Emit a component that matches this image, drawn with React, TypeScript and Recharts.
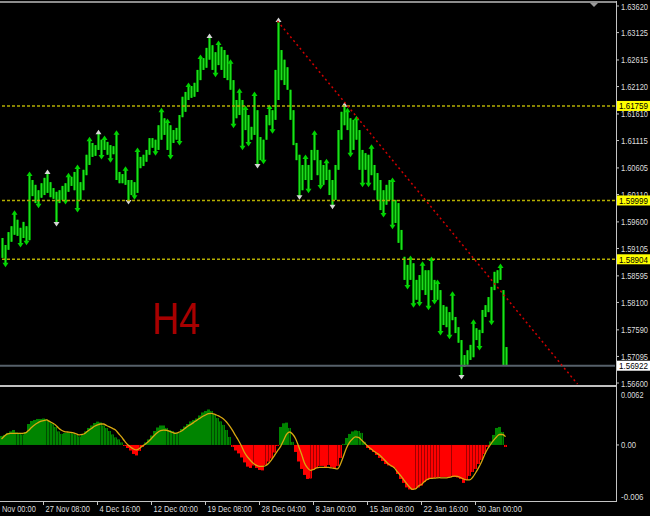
import React from 'react';
import { ComposedChart, Bar, Line, XAxis, YAxis, ReferenceLine } from 'recharts';

// ---- price bars (H4), high / low per bar ----
const hi = [
  1.5930, 1.5917, 1.5941, 1.5952, 1.5977, 1.5964, 1.5949, 1.5960, 1.5952, 1.6049,
  1.6038, 1.6029, 1.6019, 1.6032, 1.6042, 1.6053, 1.6034, 1.6023, 1.6016, 1.6019,
  1.6027, 1.6032, 1.6047, 1.6044, 1.6053, 1.6062, 1.6034, 1.6057, 1.6085, 1.6114,
  1.6107, 1.6103, 1.6127, 1.6113, 1.6116, 1.6109, 1.6103, 1.6101, 1.6126, 1.6053,
  1.6049, 1.6059, 1.6038, 1.6038, 1.6034, 1.6094, 1.6081, 1.6085, 1.6094, 1.6116,
  1.6116, 1.6113, 1.6140, 1.6168, 1.6153, 1.6148, 1.6140, 1.6131, 1.6135, 1.6159,
  1.6193, 1.6202, 1.6215, 1.6213, 1.6219, 1.6243, 1.6267, 1.6265, 1.6284, 1.6306,
  1.6289, 1.6276, 1.6293, 1.6286, 1.6280, 1.6271, 1.6258, 1.6224, 1.6187, 1.6204,
  1.6187, 1.6172, 1.6159, 1.6137, 1.6198, 1.6168, 1.6118, 1.6113, 1.6159, 1.6174,
  1.6168, 1.6243, 1.6336, 1.6280, 1.6262, 1.6248, 1.6206, 1.6168, 1.6107, 1.6085,
  1.6066, 1.6081, 1.6066, 1.6094, 1.6126, 1.6094, 1.6075, 1.6066, 1.6073, 1.6057,
  1.6038, 1.6066, 1.6131, 1.6165, 1.6178, 1.6168, 1.6153, 1.6150, 1.6153, 1.6131,
  1.6094, 1.6088, 1.6085, 1.6100, 1.6066, 1.6051, 1.6038, 1.6019, 1.6029, 1.6038,
  1.6038, 1.6001, 1.5995, 1.5945, 1.5895, 1.5880, 1.5893, 1.5883, 1.5852, 1.5861,
  1.5882, 1.5870, 1.5870, 1.5891, 1.5852, 1.5848, 1.5833, 1.5805, 1.5802, 1.5792,
  1.5826, 1.5783, 1.5764, 1.5740, 1.5712, 1.5721, 1.5731, 1.5774, 1.5762, 1.5759,
  1.5796, 1.5805, 1.5820, 1.5839, 1.5867, 1.5870, 1.5878, 1.5833, 1.5727,
];
const lo = [
  1.5893, 1.5880, 1.5908, 1.5923, 1.5936, 1.5934, 1.5917, 1.5930, 1.5921, 1.5926,
  1.6008, 1.5995, 1.5990, 1.6005, 1.6010, 1.6014, 1.6006, 1.6003, 1.5956, 1.5995,
  1.6001, 1.5997, 1.6016, 1.6027, 1.6019, 1.5982, 1.6001, 1.6019, 1.6047, 1.6066,
  1.6081, 1.6083, 1.6094, 1.6081, 1.6094, 1.6085, 1.6075, 1.6086, 1.6038, 1.6032,
  1.6032, 1.6029, 1.5997, 1.6010, 1.6006, 1.6014, 1.6060, 1.6064, 1.6072, 1.6085,
  1.6098, 1.6088, 1.6094, 1.6113, 1.6122, 1.6094, 1.6081, 1.6107, 1.6113, 1.6107,
  1.6155, 1.6165, 1.6187, 1.6191, 1.6193, 1.6202, 1.6224, 1.6243, 1.6247, 1.6262,
  1.6243, 1.6234, 1.6252, 1.6243, 1.6228, 1.6224, 1.6206, 1.6139, 1.6153, 1.6159,
  1.6098, 1.6131, 1.6105, 1.6113, 1.6122, 1.6064, 1.6075, 1.6072, 1.6113, 1.6140,
  1.6129, 1.6150, 1.6187, 1.6224, 1.6215, 1.6206, 1.6150, 1.6103, 1.6075, 1.6006,
  1.6019, 1.6038, 1.6018, 1.6038, 1.6075, 1.6047, 1.6025, 1.6029, 1.6038, 1.6010,
  1.5988, 1.6001, 1.6057, 1.6113, 1.6140, 1.6131, 1.6085, 1.6094, 1.6113, 1.6057,
  1.6029, 1.6057, 1.6029, 1.6047, 1.6019, 1.6001, 1.5982, 1.5973, 1.5992, 1.6001,
  1.5951, 1.5958, 1.5921, 1.5908, 1.5852, 1.5839, 1.5852, 1.5805, 1.5815, 1.5807,
  1.5833, 1.5824, 1.5800, 1.5833, 1.5811, 1.5815, 1.5753, 1.5768, 1.5764, 1.5746,
  1.5777, 1.5753, 1.5735, 1.5671, 1.5690, 1.5694, 1.5703, 1.5708, 1.5740, 1.5725,
  1.5753, 1.5783, 1.5792, 1.5772, 1.5833, 1.5846, 1.5852, 1.5692, 1.5692,
];

// fractal arrows (bar indices)
const upFractals = [4, 9, 15, 22, 25, 29, 32, 34, 38, 41, 45, 53, 55, 62, 66, 69, 72, 76, 79, 81, 84, 89, 92, 101, 104, 108, 114, 115, 118, 123, 130, 136, 140, 143, 145, 150, 157, 166];
const downFractals = [1, 6, 8, 12, 18, 21, 25, 33, 36, 42, 44, 51, 56, 59, 71, 77, 80, 82, 85, 87, 90, 99, 102, 106, 110, 116, 120, 122, 127, 130, 135, 137, 139, 142, 144, 146, 149, 153, 159, 163];
const majorFractals = [15, 18, 32, 42, 69, 85, 92, 99, 110, 114, 153];

// ---- indicator (histogram + signal) ----
const osma = [
  0.00098, 0.00109, 0.00131, 0.00147, 0.00163, 0.00136, 0.00131, 0.00114, 0.00141, 0.00228,
  0.00261, 0.00272, 0.00283, 0.00283, 0.00288, 0.00277, 0.00256, 0.00234, 0.00196, 0.00147,
  0.00120, 0.00131, 0.00136, 0.00134, 0.00125, 0.00109, 0.00092, 0.00109, 0.00147, 0.00185,
  0.00212, 0.00239, 0.00254, 0.00245, 0.00212, 0.00185, 0.00152, 0.00114, 0.00082, 0.00060,
  0.00027, -0.00011, -0.00033, -0.00060, -0.00098, -0.00114, -0.00065, -0.00022, 0.00027, 0.00060,
  0.00103, 0.00152, 0.00190, 0.00212, 0.00212, 0.00185, 0.00163, 0.00152, 0.00134, 0.00131,
  0.00174, 0.00201, 0.00228, 0.00256, 0.00272, 0.00288, 0.00321, 0.00354, 0.00370, 0.00386,
  0.00370, 0.00332, 0.00294, 0.00256, 0.00218, 0.00163, 0.00087, -0.00022, -0.00060, -0.00092,
  -0.00136, -0.00190, -0.00236, -0.00250, -0.00223, -0.00250, -0.00272, -0.00277, -0.00218, -0.00180,
  -0.00147, -0.00082, -0.00011, 0.00196, 0.00236, 0.00243, 0.00185, 0.00033, -0.00076, -0.00180,
  -0.00261, -0.00326, -0.00370, -0.00364, -0.00272, -0.00250, -0.00228, -0.00228, -0.00239, -0.00218,
  -0.00239, -0.00250, -0.00228, -0.00141, 0.00011, 0.00076, 0.00120, 0.00147, 0.00158, 0.00152,
  0.00131, 0.00033, -0.00033, -0.00054, -0.00076, -0.00109, -0.00141, -0.00174, -0.00207, -0.00223,
  -0.00234, -0.00250, -0.00316, -0.00370, -0.00413, -0.00462, -0.00484, -0.00490, -0.00479, -0.00462,
  -0.00441, -0.00403, -0.00381, -0.00370, -0.00359, -0.00354, -0.00348, -0.00348, -0.00348, -0.00348,
  -0.00343, -0.00348, -0.00354, -0.00370, -0.00413, -0.00381, -0.00337, -0.00294, -0.00261, -0.00207,
  -0.00163, -0.00098, -0.00022, 0.00038, 0.00109, 0.00185, 0.00196, 0.00141, -0.00022,
];
const signalLine = [
  0.00065, 0.00098, 0.00120, 0.00127, 0.00127, 0.00127, 0.00127, 0.00127, 0.00131, 0.00158,
  0.00190, 0.00218, 0.00239, 0.00256, 0.00264, 0.00272, 0.00256, 0.00239, 0.00218, 0.00185,
  0.00160, 0.00146, 0.00141, 0.00137, 0.00131, 0.00120, 0.00109, 0.00114, 0.00131, 0.00158,
  0.00180, 0.00203, 0.00218, 0.00228, 0.00228, 0.00212, 0.00196, 0.00180, 0.00163, 0.00125,
  0.00087, 0.00044, 0.00005, -0.00022, -0.00044, -0.00054, -0.00038, -0.00011, 0.00011, 0.00038,
  0.00071, 0.00106, 0.00136, 0.00156, 0.00161, 0.00160, 0.00147, 0.00136, 0.00127, 0.00136,
  0.00152, 0.00176, 0.00201, 0.00221, 0.00243, 0.00267, 0.00288, 0.00310, 0.00326, 0.00341,
  0.00343, 0.00335, 0.00321, 0.00305, 0.00283, 0.00250, 0.00207, 0.00158, 0.00103, 0.00049,
  -0.00011, -0.00082, -0.00131, -0.00169, -0.00201, -0.00223, -0.00234, -0.00234, -0.00226, -0.00201,
  -0.00163, -0.00114, -0.00065, -0.00018, 0.00049, 0.00114, 0.00141, 0.00120, 0.00071, -0.00011,
  -0.00098, -0.00196, -0.00250, -0.00277, -0.00267, -0.00250, -0.00243, -0.00243, -0.00243, -0.00245,
  -0.00250, -0.00256, -0.00261, -0.00207, -0.00120, -0.00033, 0.00027, 0.00065, 0.00087, 0.00082,
  0.00054, 0.00022, -0.00011, -0.00038, -0.00065, -0.00087, -0.00109, -0.00141, -0.00174, -0.00207,
  -0.00228, -0.00250, -0.00294, -0.00332, -0.00375, -0.00419, -0.00457, -0.00484, -0.00479, -0.00446,
  -0.00430, -0.00397, -0.00375, -0.00364, -0.00362, -0.00359, -0.00356, -0.00359, -0.00359, -0.00354,
  -0.00346, -0.00339, -0.00343, -0.00354, -0.00370, -0.00381, -0.00381, -0.00354, -0.00305, -0.00250,
  -0.00185, -0.00109, -0.00044, 0.00005, 0.00049, 0.00087, 0.00114, 0.00114, 0.00090,
];

// ---- axes, levels, objects ----
const priceTicks = [1.6362, 1.63125, 1.62615, 1.6212, 1.6161, 1.61115, 1.60605, 1.6011, 1.596, 1.59105, 1.58595, 1.581, 1.5759, 1.57095, 1.566];
const priceLevels = [1.61759, 1.59999, 1.58904];
const bidPrice = 1.56922;
const trendFrom = { bar: 92, price: 1.6334 };
const trendTo = { bar: 192, price: 1.5658 };
const indTicks = [0.0062, 0, -0.006];
const indLabels = ['0.0062', '0.00', '-0.006'];
const timeLabelBars = [-4, 14, 32, 50, 68, 86, 104, 122, 140, 158];
const timeLabels = ['20 Nov 00:00', '27 Nov 08:00', '4 Dec 16:00', '12 Dec 00:00', '19 Dec 08:00', '28 Dec 04:00', '8 Jan 00:00', '15 Jan 08:00', '22 Jan 16:00', '30 Jan 00:00'];
const timeframe = 'H4';

const FIRST_BAR = -4;
const LAST_BAR = 204;

const upSet = new Set(upFractals);
const downSet = new Set(downFractals);
const majorSet = new Set(majorFractals);

const rows: any[] = [];
for (let b = FIRST_BAR; b <= LAST_BAR; b++) {
  const ok = b >= 0 && b < hi.length;
  rows.push({
    bar: b,
    range: ok ? [lo[b], hi[b]] : null,
    osma: ok ? osma[b] : null,
    signal: ok ? signalLine[b] : null,
    weaker: ok && b > 0 ? Math.abs(osma[b]) < Math.abs(osma[b - 1]) : false,
  });
}

const FONT = 'Liberation Sans, Arial, sans-serif';
const AXIS = '#c4c4c4';
const TXT = '#dedede';

const PriceBar = (props: any) => {
  const { x, y, width, height, payload } = props;
  if (!payload || payload.range == null) return null;
  const cx = Math.round(x + width / 2);
  const top = Math.min(y, y + height);
  const h = Math.max(1, Math.abs(height));
  const bottom = top + h;
  const b = payload.bar;
  const ac = majorSet.has(b) ? '#d4d4d4' : '#00d400';
  return (
    <g>
      <rect x={cx - 1} y={top} width={3} height={h} fill="#008c00" />
      <rect x={cx} y={top} width={1} height={h} fill="#20dc20" />
      {upSet.has(b) && (
        <path d={`M${cx - 2.5},${top + 2} L${cx + 3.5},${top + 2} L${cx + 0.5},${top - 2.5} Z`} fill={ac} />
      )}
      {downSet.has(b) && (
        <path d={`M${cx - 2.5},${bottom - 2} L${cx + 3.5},${bottom - 2} L${cx + 0.5},${bottom + 2.5} Z`} fill={ac} />
      )}
    </g>
  );
};

const OsmaBar = (props: any) => {
  const { x, y, width, height, payload } = props;
  if (!payload || payload.osma == null) return null;
  const top = Math.min(y, y + height);
  const h = Math.abs(height);
  const left = Math.round(x);
  const w = Math.max(1, Math.round(width));
  const pos = payload.osma >= 0;
  const base = pos ? '#008400' : '#ff0000';
  const dark = pos ? '#004c00' : '#a00000';
  return (
    <g>
      <rect x={left} y={top} width={w} height={h} fill={base} />
      {payload.weaker && <rect x={left + 1} y={top} width={1} height={h} fill={dark} />}
    </g>
  );
};

const PriceTick = (props: any) => {
  const { x, y, payload } = props;
  const v = payload.value;
  const label = Number(v).toFixed(5);
  const isLevel = priceLevels.includes(v);
  const isBid = v === bidPrice;
  if (isLevel || isBid) {
    return (
      <g>
        <rect x={x + 2} y={y - 5} width={34} height={10} fill={isBid ? '#ffffff' : '#ffff00'} />
        <text x={x + 4} y={y + 3.5} fill="#000" fontSize={9.5} fontFamily={FONT} textLength={29} lengthAdjust="spacingAndGlyphs">
          {label}
        </text>
      </g>
    );
  }
  return (
    <g>
      <line x1={x + 1} x2={x + 4} y1={y} y2={y} stroke={AXIS} />
      <text x={x + 6} y={y + 3.5} fill={TXT} fontSize={9.5} fontFamily={FONT} textLength={label.length * 3.85} lengthAdjust="spacingAndGlyphs">
        {label}
      </text>
    </g>
  );
};

const IndTick = (props: any) => {
  const { x, y, payload } = props;
  const idx = indTicks.indexOf(payload.value);
  const label = indLabels[idx];
  const dy = idx === 0 ? 9.5 : idx === 1 ? 3.5 : -0.5;
  return (
    <g>
      {idx === 1 && <line x1={x + 1} x2={x + 4} y1={y} y2={y} stroke={AXIS} />}
      <text x={x + 6} y={y + dy} fill={TXT} fontSize={9.5} fontFamily={FONT} textLength={label.length * 3.75} lengthAdjust="spacingAndGlyphs">
        {label}
      </text>
    </g>
  );
};

const TimeTick = (props: any) => {
  const { x, y, payload } = props;
  const idx = timeLabelBars.indexOf(payload.value);
  if (idx < 0) return null;
  const label = timeLabels[idx];
  return (
    <g>
      <line x1={x} x2={x} y1={y} y2={y + 4} stroke={AXIS} />
      <text x={x + 2} y={y + 11} fill={TXT} fontSize={9.5} fontFamily={FONT} textLength={label.length * 3.7} lengthAdjust="spacingAndGlyphs">
        {label}
      </text>
    </g>
  );
};

export default function App() {
  return (
    <div style={{ position: 'absolute', left: 0, top: 0, width: 650, height: 516, background: '#000', overflow: 'hidden', fontFamily: FONT }}>
      <div style={{ position: 'absolute', left: -12, top: 0 }}>
        <ComposedChart width={662} height={392} data={rows} margin={{ top: 3, right: 0, bottom: 7, left: 0 }} barCategoryGap={0} barGap={0}>
          <XAxis dataKey="bar" hide />
          <YAxis
            orientation="right"
            type="number"
            domain={[1.56563, 1.63676]}
            allowDataOverflow
            ticks={[...priceTicks, bidPrice, ...priceLevels]}
            interval={0}
            tickSize={0}
            tickMargin={0}
            tickLine={false}
            axisLine={false}
            width={35}
            tick={PriceTick}
          />
          {priceLevels.map((p) => (
            <ReferenceLine key={p} y={p} stroke="#b4ae00" strokeDasharray="3 2" strokeWidth={1.5} />
          ))}
          <ReferenceLine y={bidPrice} stroke="#56606a" strokeWidth={2} />
          <Bar dataKey="range" barSize={2} shape={PriceBar} isAnimationActive={false} />
          <ReferenceLine
            segment={[
              { x: trendFrom.bar, y: trendFrom.price },
              { x: trendTo.bar, y: trendTo.price },
            ]}
            stroke="#d00000"
            strokeDasharray="2 3"
            strokeWidth={1.5}
          />
        </ComposedChart>
      </div>
      <div style={{ position: 'absolute', left: -12, top: 388 }}>
        <ComposedChart width={662} height={128} data={rows} margin={{ top: 0, right: 0, bottom: 0, left: 0 }} barCategoryGap={0} barGap={0}>
          <XAxis
            dataKey="bar"
            ticks={timeLabelBars}
            interval={0}
            tickSize={0}
            tickMargin={0}
            tickLine={false}
            axisLine={false}
            height={15}
            tick={TimeTick}
          />
          <YAxis
            orientation="right"
            type="number"
            domain={[-0.0061, 0.0062]}
            allowDataOverflow
            ticks={indTicks}
            interval={0}
            tickSize={0}
            tickMargin={0}
            tickLine={false}
            axisLine={false}
            width={35}
            tick={IndTick}
          />
          <Bar dataKey="osma" shape={OsmaBar} isAnimationActive={false} />
          <Line dataKey="signal" type="monotone" stroke="#d8a810" strokeWidth={1.3} dot={false} isAnimationActive={false} />
        </ComposedChart>
      </div>
      <svg width={650} height={516} style={{ position: 'absolute', left: 0, top: 0, pointerEvents: 'none' }}>
        <rect x={0} y={1} width={617} height={2} fill="#8c8c8c" />
        <rect x={616} y={1} width={1} height={501} fill={AXIS} />
        <rect x={0} y={385} width={617} height={2} fill="#c0c0c0" />
        <rect x={0} y={501} width={617} height={1} fill={AXIS} />
        <path d="M590,3 L598,3 L594,7 Z" fill="#9a9a9a" />
        <text x={152} y={334} fill="#a80000" fontSize={44} fontFamily={FONT} textLength={48} lengthAdjust="spacingAndGlyphs">
          {timeframe}
        </text>
      </svg>
    </div>
  );
}
